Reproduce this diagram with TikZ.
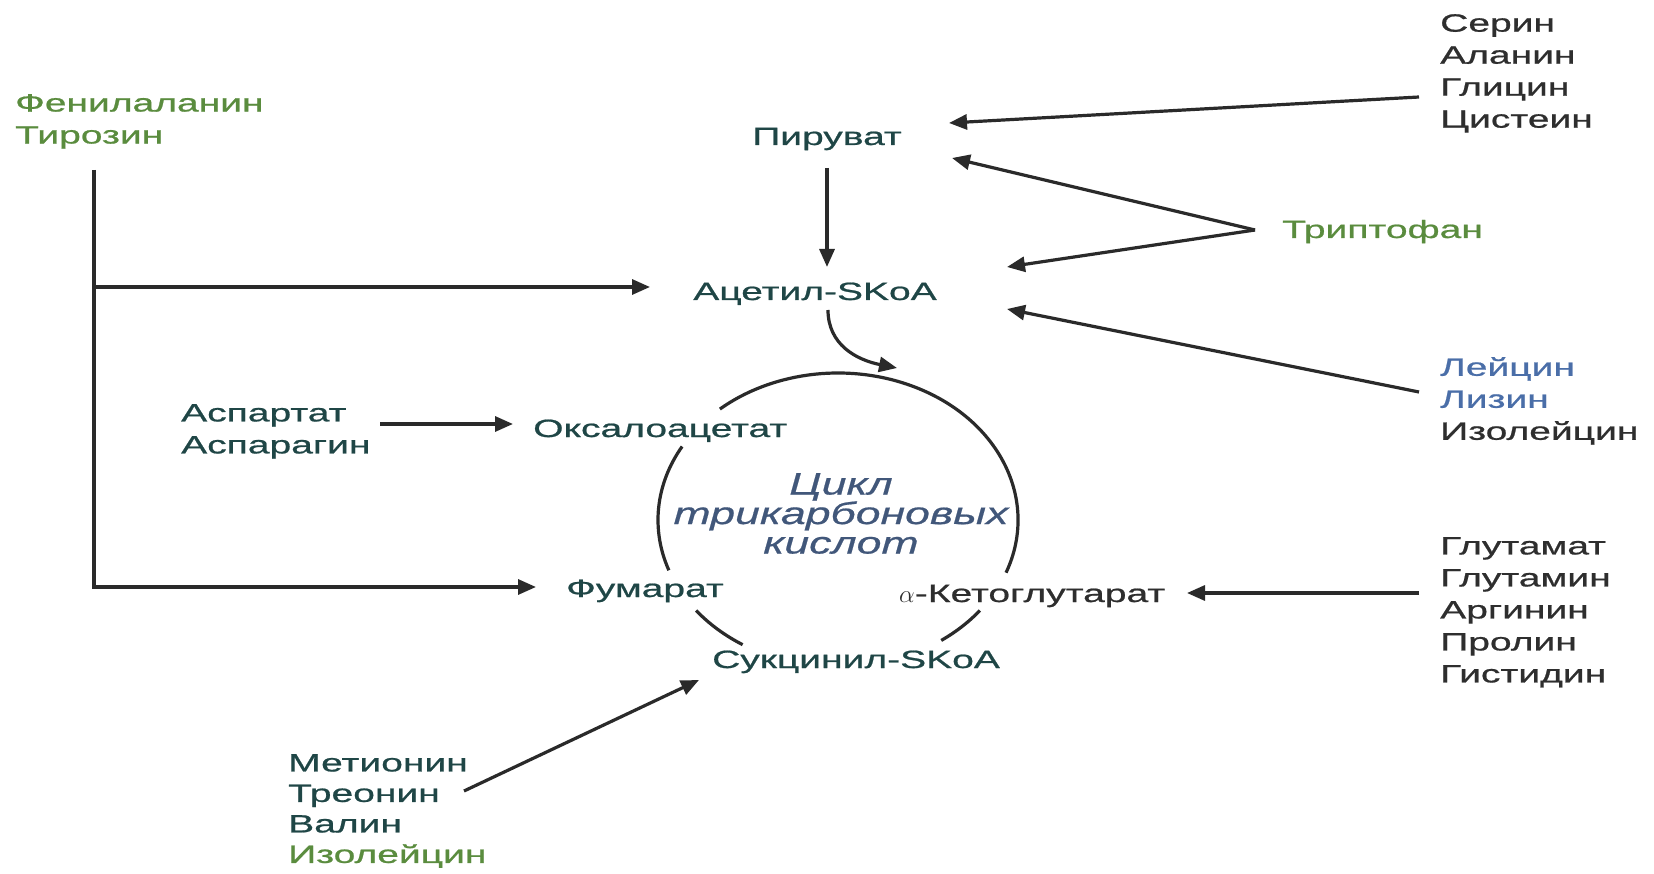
\documentclass[tikz,border=0pt]{standalone}
\usepackage{fontspec}
\setmainfont{Liberation Sans}[FakeStretch=1.56,FakeBold=0.8]
\newfontfamily\cycfont{Liberation Sans}[FakeStretch=1.44,FakeBold=0.6]
\usetikzlibrary{arrows.meta,calc}
\definecolor{cgreen}{HTML}{5A8C3E}
\definecolor{cteal}{HTML}{1F4646}
\definecolor{cblk}{HTML}{2E2E2E}
\definecolor{cblue}{HTML}{4A6EA8}
\definecolor{ccyc}{HTML}{41577A}
\definecolor{lc}{HTML}{2A2A2A}
\begin{document}
\begin{tikzpicture}[x=1pt,y=-1pt,
  lbl/.style={inner sep=0pt, font=\fontsize{25}{32}\selectfont},
  conn/.style={draw=lc, line width=3.2pt},
  arr/.style={conn, -{Triangle[length=18pt,width=15pt]}},
  cycline/.style={draw=lc, line width=3.2pt}]
\useasboundingbox[fill=white] (0,0) rectangle (1654,874);

% labels
\node[lbl, text=cgreen, align=left, anchor=north west] (fen) at (15,94) {Фенилаланин\\Тирозин};
\node[lbl, text=cblk, align=left, anchor=north west] (ser) at (1440,14) {Серин\\Аланин\\Глицин\\Цистеин};
\node[lbl, text=cteal, anchor=base] (pir) at (827,145) {Пируват};
\node[lbl, text=cgreen, anchor=base west] (try) at (1282,238) {Триптофан};
\node[lbl, text=cteal, anchor=base] (acet) at (815,300) {Ацетил-SKoA};
\node[lbl, align=left, anchor=north west] (ley) at (1440,357) {\textcolor{cblue}{Лейцин}\\\textcolor{cblue}{Лизин}\\\textcolor{cblk}{Изолейцин}};
\node[lbl, text=cteal, align=left, anchor=north west] (asp) at (181,404) {Аспартат\\Аспарагин};
\node[lbl, text=cteal, anchor=base west] (oks) at (533,437) {Оксалоацетат};
\node[lbl, text=cteal, anchor=base west] (fum) at (566,597) {Фумарат};
\node[lbl, text=cblk, anchor=base west] (keto) at (899,602) {$\alpha$-Кетоглутарат};
\node[lbl, text=cteal, anchor=base west] (suk) at (712,668) {Сукцинил-SKoA};
\node[lbl, text=cblk, align=left, anchor=north west] (glu) at (1440,537) {Глутамат\\Глутамин\\Аргинин\\Пролин\\Гистидин};
\node[lbl, text=cteal, align=left, anchor=north west, font=\fontsize{25}{30.5}\selectfont] (met) at (288,754) {Метионин\\Треонин\\Валин\\\textcolor{cgreen}{Изолейцин}};
\node[inner sep=0pt, text=ccyc, align=center, anchor=north, font=\cycfont\fontsize{31}{29.5}\selectfont\itshape] (cyctxt) at (841,473) {Цикл\\трикарбоновых\\кислот};

% cycle
\coordinate (cyc) at (838,520);
\draw[cycline] ([shift={(-21:180pt and 147pt)}]cyc) arc[start angle=-21, end angle=131, x radius=180pt, y radius=147pt];
\draw[cycline] ([shift={(150:180pt and 147pt)}]cyc) arc[start angle=150, end angle=200, x radius=180pt, y radius=147pt];
\draw[cycline] ([shift={(218:180pt and 147pt)}]cyc) arc[start angle=218, end angle=238, x radius=180pt, y radius=147pt];
\draw[cycline] ([shift={(305:180pt and 147pt)}]cyc) arc[start angle=305, end angle=322, x radius=180pt, y radius=147pt];

% connectors
\draw[arr] ([shift={(-21,83)}]ser.north west) -- ([shift={(122,-22)}]pir.base);
\draw[arr] ([shift={(-27,-8)}]try.base west) -- ([shift={(125,13)}]pir.base);
\draw[arr] ([shift={(-27,-8)}]try.base west) -- ([shift={(192,-33)}]acet.base);
\draw[arr] ([shift={(0,23)}]pir.base) -- ([shift={(12,-33)}]acet.base);
\draw[conn, -{Triangle[length=18pt,width=15pt]}] ([shift={(79,76)}]fen.north west) |- ([shift={(-30,-10)}]fum.base west);
\draw[arr] ([shift={(79,193)}]fen.north west) -- ([shift={(-165,-13)}]acet.base);
\draw[arr] ([shift={(-21,35)}]ley.north west) -- ([shift={(192,9)}]acet.base);
\draw[arr] ([shift={(13,10)}]acet.base) .. controls +(0,35) and +(-40,-8) .. ([shift={(59,-152)}]cyc);
\draw[arr] ([shift={(199,20)}]asp.north west) -- ([shift={(-20,-13)}]oks.base west);
\draw[arr] ([shift={(-21,56)}]glu.north west) -- ([shift={(288,-9)}]keto.base west);
\draw[arr] ([shift={(176,37)}]met.north west) -- ([shift={(-13,12)}]suk.base west);
\end{tikzpicture}
\end{document}
